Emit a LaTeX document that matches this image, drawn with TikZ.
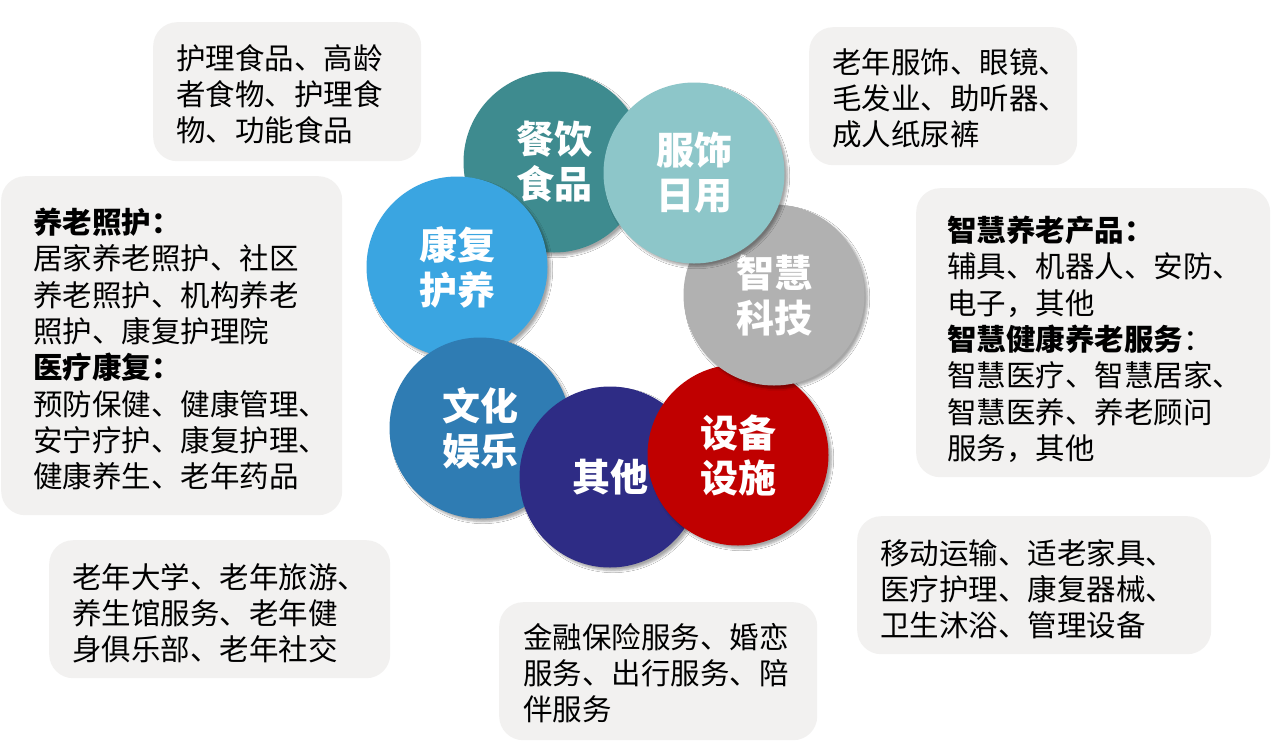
\documentclass[tikz,border=0pt]{standalone}
\usepackage{fontspec}
\setmainfont{Noto Sans CJK SC}
\usetikzlibrary{shadows.blur}
\definecolor{cteal}{HTML}{3E8B8F}
\definecolor{clteal}{HTML}{8DC6C9}
\definecolor{cgrey}{HTML}{B1B1B1}
\definecolor{cred}{HTML}{C00000}
\definecolor{cnavy}{HTML}{2E2C85}
\definecolor{cblue}{HTML}{2F7CB3}
\definecolor{clblue}{HTML}{3AA5E1}
\definecolor{boxfill}{HTML}{F2F1F0}
\tikzset{
  circ/.style={circle, minimum size=181pt, inner sep=0pt, text=white, align=center,
    font=\fontsize{38}{45}\selectfont\bfseries,
    blur shadow={shadow xshift=3pt, shadow yshift=-3pt, shadow blur steps=6, shadow opacity=35}},
  infobox/.style={rounded corners=24pt, fill=boxfill, draw=none, anchor=north west, inner sep=0pt},
  infotext/.style={anchor=north west, inner sep=0pt, align=left, text=black,
    font=\fontsize{29.5}{36.3}\selectfont}
}
\begin{document}
\begin{tikzpicture}[x=1pt,y=-1pt]
\fill[white] (0,0) rectangle (1271,745);
\useasboundingbox (0,0) rectangle (1271,745);
% boxes
\node[infobox, minimum width=268pt, minimum height=139pt] (b1) at (153,22) {};
\node[infotext] (t1) at (176,44) {护理食品、高龄\\者食物、护理食\\物、功能食品};
\node[infobox, minimum width=268pt, minimum height=138pt] (b2) at (809,27) {};
\node[infotext] (t2) at (832,48) {老年服饰、眼镜、\\毛发业、助听器、\\成人纸尿裤};
\node[infobox, minimum width=341pt, minimum height=339pt] (b3) at (1,176) {};
\node[infotext] (t3) at (33,208) {\textbf{养老照护：}\\居家养老照护、社区\\养老照护、机构养老\\照护、康复护理院\\\textbf{医疗康复：}\\预防保健、健康管理、\\安宁疗护、康复护理、\\健康养生、老年药品};
\node[infobox, minimum width=354pt, minimum height=289pt] (b4) at (916,188) {};
\node[infotext] (t4) at (947,216) {\textbf{智慧养老产品：}\\辅具、机器人、安防、\\电子，其他\\\textbf{智慧健康养老服务}：\\智慧医疗、智慧居家、\\智慧医养、养老顾问\\服务，其他};
\node[infobox, minimum width=354pt, minimum height=138pt] (b5) at (857,516) {};
\node[infotext] (t5) at (880,539) {移动运输、适老家具、\\医疗护理、康复器械、\\卫生沐浴、管理设备};
\node[infobox, minimum width=341pt, minimum height=138pt] (b6) at (49,540) {};
\node[infotext] (t6) at (72,563) {老年大学、老年旅游、\\养生馆服务、老年健\\身俱乐部、老年社交};
\node[infobox, minimum width=318pt, minimum height=138pt] (b7) at (499,602) {};
\node[infotext] (t7) at (523,623) {金融保险服务、婚恋\\服务、出行服务、陪\\伴服务};
% circles (bottom to top)
\node[circ, fill=cteal] (food) at (554,162) {餐饮\\食品};
\node[circ, fill=clblue] (care) at (457,267) {康复\\护养};
\node[circ, fill=cblue] (culture) at (480,428) {文化\\娱乐};
\node[circ, fill=cnavy] (other) at (610,477) {其他};
\node[circ, fill=cred] (equip) at (738,455) {设备\\设施};
\node[circ, fill=cgrey] (smart) at (774,295) {智慧\\科技};
\node[circ, fill=clteal] (cloth) at (694,173) {服饰\\日用};
\end{tikzpicture}
\end{document}
